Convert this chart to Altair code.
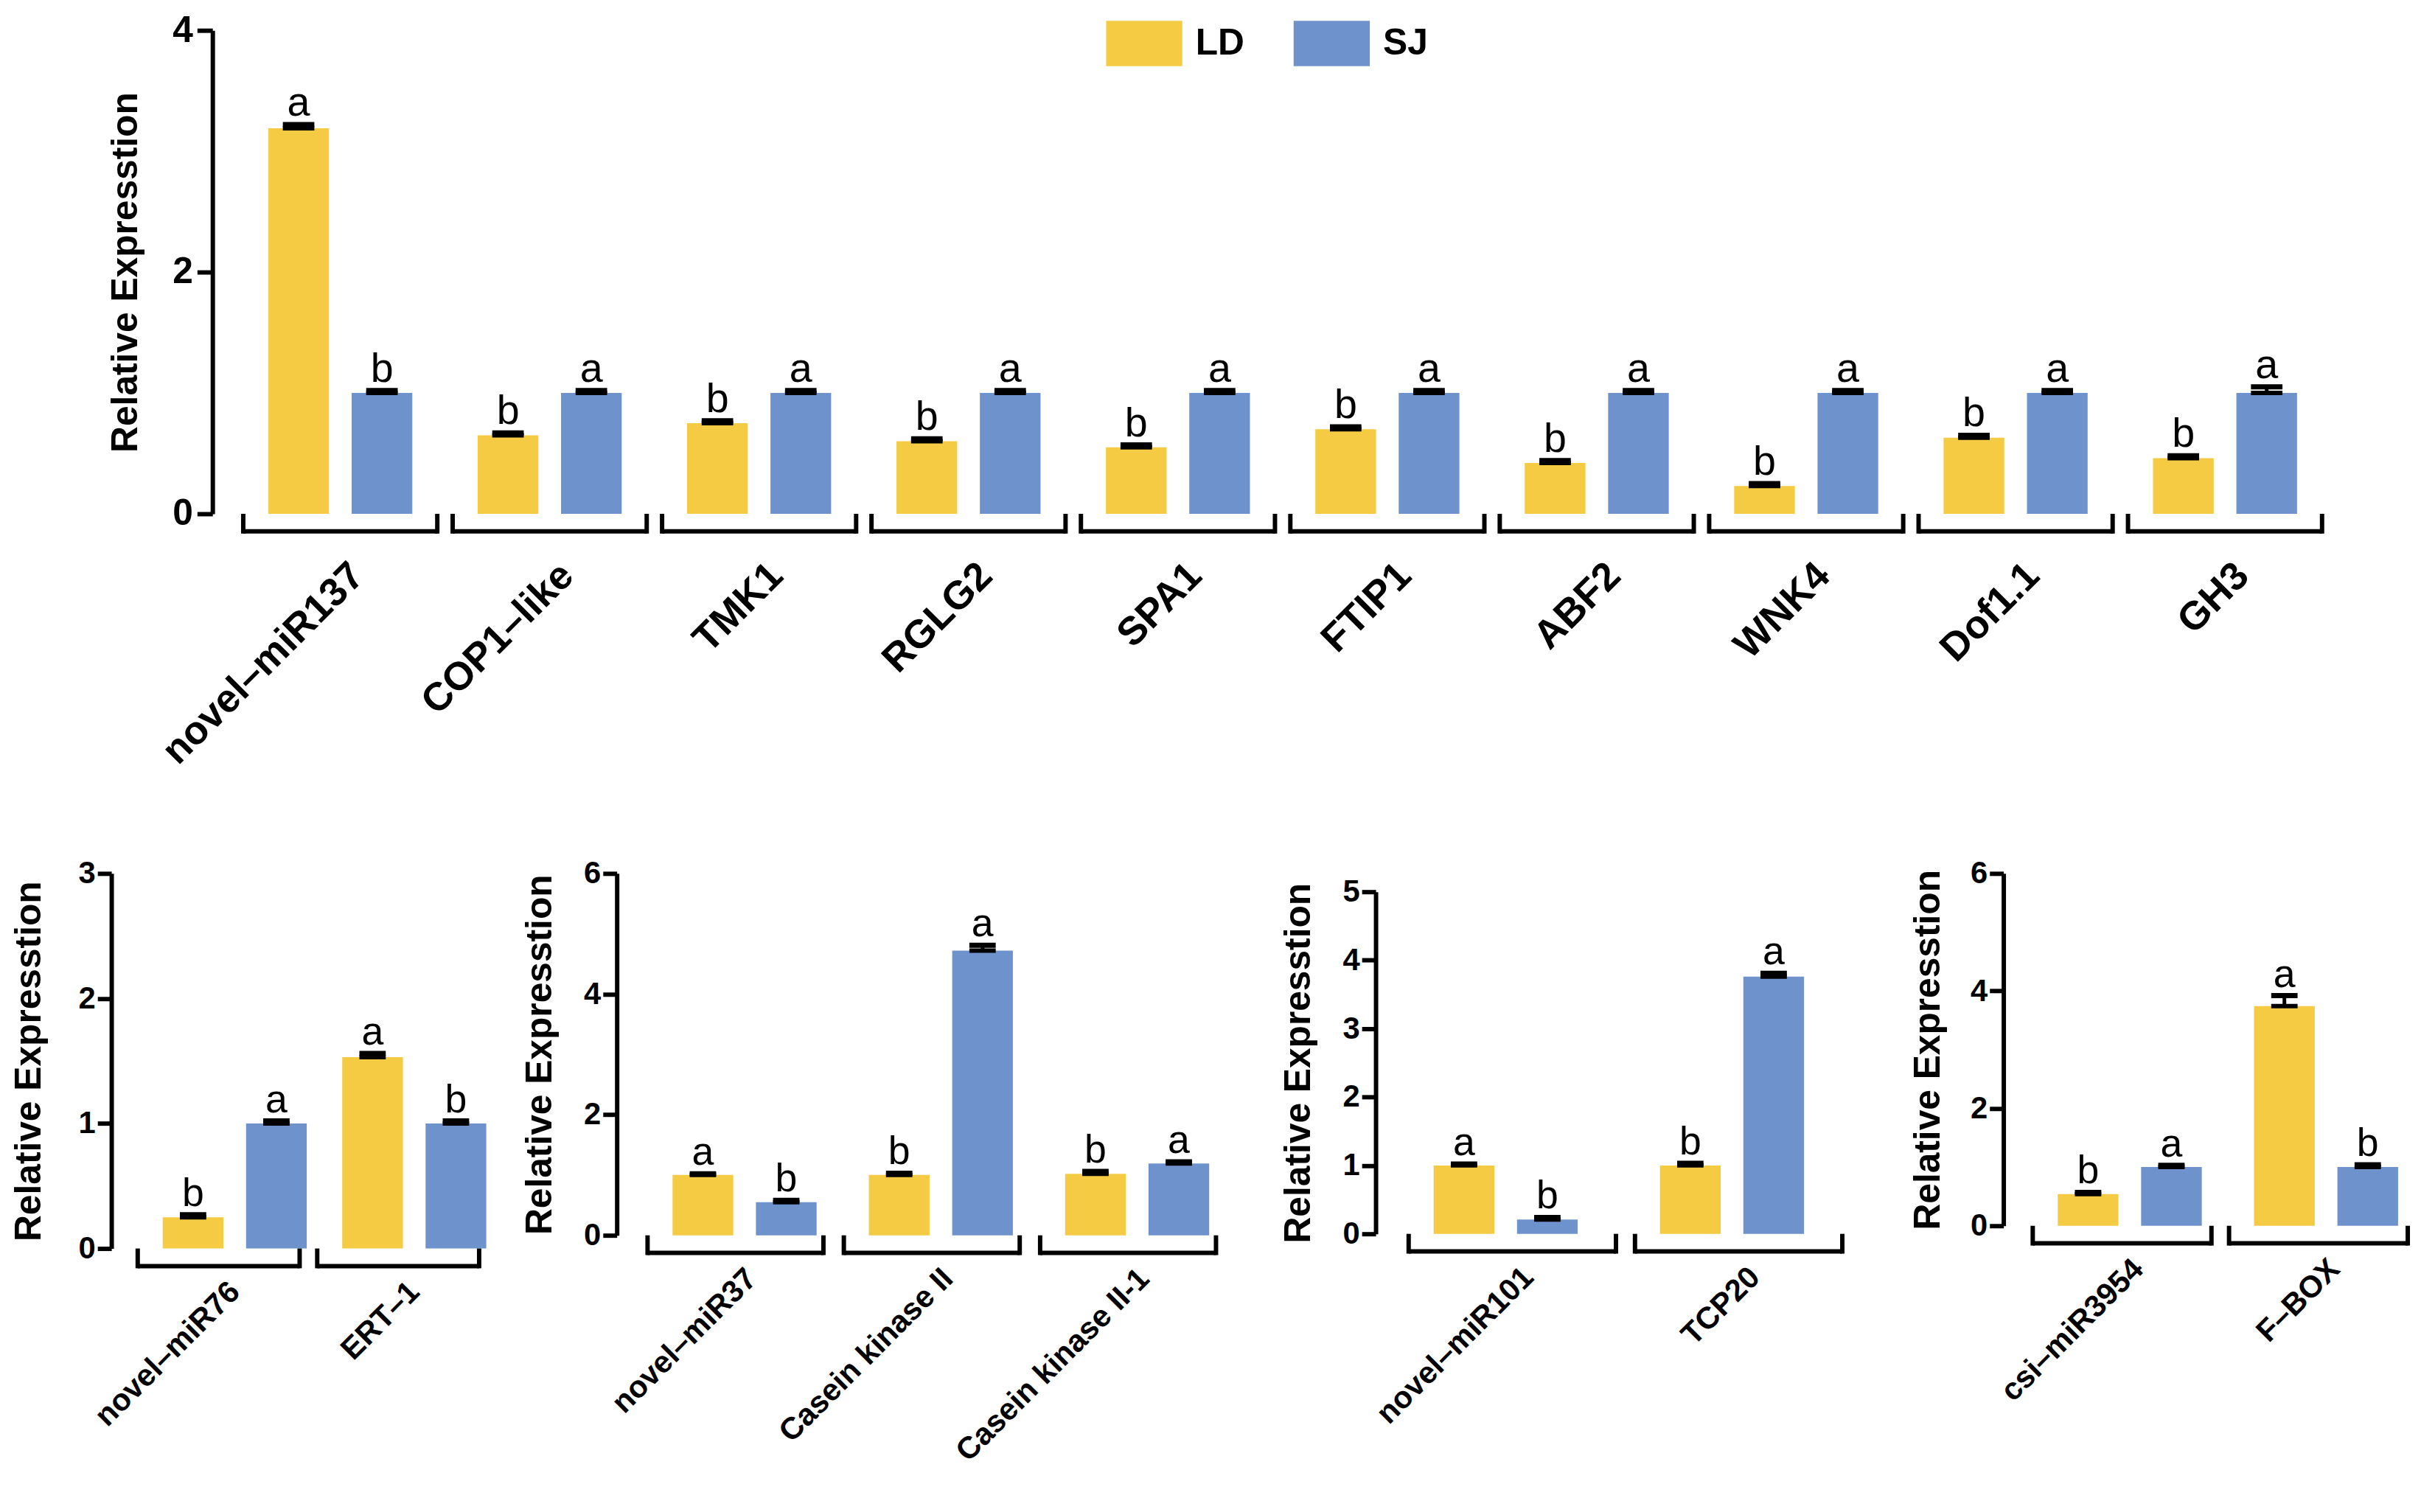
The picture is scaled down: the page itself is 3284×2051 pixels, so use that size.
import altair as alt
import pandas as pd

FONT = "Liberation Sans"
LD_COLOR = "#F4CB42"
SJ_COLOR = "#6E93CC"
GROUPS = ["LD", "SJ"]
Y_TITLE = "Relative Expresstion"

# ---------------- data ----------------
top_genes = ["novel–miR137", "COP1–like", "TMK1", "RGLG2", "SPA1",
             "FTIP1", "ABF2", "WNK4", "Dof1.1", "GH3"]
top_ld = [3.19, 0.65, 0.75, 0.60, 0.55, 0.70, 0.42, 0.23, 0.63, 0.46]
top_sj = [1.00, 1.00, 1.00, 1.00, 1.00, 1.00, 1.00, 1.00, 1.00, 1.00]
top_ld_err = [0.03, 0.02, 0.02, 0.02, 0.02, 0.02, 0.02, 0.02, 0.02, 0.02]
top_sj_err = [0.02, 0.02, 0.02, 0.02, 0.02, 0.02, 0.02, 0.02, 0.02, 0.05]
top_ld_sig = ["a", "b", "b", "b", "b", "b", "b", "b", "b", "b"]
top_sj_sig = ["b", "a", "a", "a", "a", "a", "a", "a", "a", "a"]

p1_genes = ["novel–miR76", "ERT–1"]
p1_ld = [0.25, 1.53]
p1_sj = [1.00, 1.00]
p1_ld_err = [0.02, 0.03]
p1_sj_err = [0.02, 0.02]
p1_ld_sig = ["b", "a"]
p1_sj_sig = ["a", "b"]

p2_genes = ["novel–miR37", "Casein kinase II", "Casein kinase II-1"]
p2_ld = [1.00, 1.00, 1.02]
p2_sj = [0.55, 4.72, 1.19]
p2_ld_err = [0.02, 0.03, 0.04]
p2_sj_err = [0.03, 0.09, 0.03]
p2_ld_sig = ["a", "b", "b"]
p2_sj_sig = ["b", "a", "a"]

p3_genes = ["novel–miR101", "TCP20"]
p3_ld = [1.00, 1.00]
p3_sj = [0.21, 3.76]
p3_ld_err = [0.02, 0.03]
p3_sj_err = [0.03, 0.05]
p3_ld_sig = ["a", "b"]
p3_sj_sig = ["b", "a"]

p4_genes = ["csi–miR3954", "F–BOX"]
p4_ld = [0.54, 3.74]
p4_sj = [1.00, 1.00]
p4_ld_err = [0.03, 0.18]
p4_sj_err = [0.03, 0.04]
p4_ld_sig = ["b", "a"]
p4_sj_sig = ["a", "b"]


def long_df(genes, ld, sj, ld_err, sj_err, ld_sig, sj_sig):
    rows = []
    for i, g in enumerate(genes):
        rows.append(dict(gene=g, group="LD", value=ld[i], err=ld_err[i], sig=ld_sig[i]))
        rows.append(dict(gene=g, group="SJ", value=sj[i], err=sj_err[i], sig=sj_sig[i]))
    df = pd.DataFrame(rows)
    df["top"] = df["value"] + df["err"]
    return df


def panel(genes, ld, sj, ld_err, sj_err, ld_sig, sj_sig, *, ymax, yticks,
          width, height, pi, po, align, ipi, ipo, capw, xfs, xoff, xpad,
          yfs, ytick, ylpad, tfs, tx, sfs, legend=None):
    df = long_df(genes, ld, sj, ld_err, sj_err, ld_sig, sj_sig)
    gdf = pd.DataFrame({"gene": genes})

    xscale = alt.Scale(domain=genes, paddingInner=pi, paddingOuter=po, align=align)
    oscale = alt.Scale(domain=GROUPS, paddingInner=ipi, paddingOuter=ipo)
    yscale = alt.Scale(domain=[0, ymax], nice=False, zero=True)

    xaxis = alt.Axis(title=None, domain=False, ticks=False, tickSize=0,
                     labelAngle=-45, labelAlign="right", labelBaseline="middle",
                     labelFont=FONT, labelFontSize=xfs, labelFontWeight="bold",
                     labelColor="black", labelOffset=xoff, labelPadding=xpad,
                     labelLimit=0)
    yaxis = alt.Axis(title=Y_TITLE, values=yticks, grid=False,
                     domainColor="black", domainWidth=6, tickColor="black",
                     tickWidth=6, tickSize=ytick, labelPadding=ylpad,
                     labelFont=FONT, labelFontSize=yfs, labelFontWeight="bold",
                     labelColor="black", titleFont=FONT, titleFontSize=tfs,
                     titleFontWeight="bold", titleColor="black",
                     titleX=tx, titleBaseline="middle", format="d")

    X = alt.X("gene:N", scale=xscale, axis=xaxis)
    XO = alt.XOffset("group:N", scale=oscale)
    base = alt.Chart(df)

    bars = base.mark_bar().encode(
        x=X, xOffset=XO,
        y=alt.Y("value:Q", scale=yscale, axis=yaxis),
        color=alt.Color("group:N",
                        scale=alt.Scale(domain=GROUPS, range=[LD_COLOR, SJ_COLOR]),
                        legend=legend),
    )
    err = base.mark_rule(color="black", strokeWidth=5).encode(
        x=X, xOffset=XO,
        y=alt.Y("value:Q", scale=yscale, axis=yaxis), y2="top:Q")
    cap_top = base.mark_tick(color="black", thickness=7, size=capw,
                             orient="horizontal", opacity=1).encode(
        x=X, xOffset=XO, y=alt.Y("top:Q", scale=yscale, axis=yaxis))
    cap_low = base.mark_tick(color="black", thickness=6, size=capw,
                             orient="horizontal", opacity=1).encode(
        x=X, xOffset=XO, y=alt.Y("value:Q", scale=yscale, axis=yaxis))
    sig = base.mark_text(font=FONT, fontSize=sfs, baseline="alphabetic",
                         dy=-12, color="black").encode(
        x=X, xOffset=XO, y=alt.Y("top:Q", scale=yscale, axis=yaxis),
        text="sig:N")

    gb = alt.Chart(gdf)
    br_h = gb.mark_rect(color="black").encode(
        x=X, y=alt.value(height + 21), y2=alt.value(height + 27))
    br_l = gb.mark_rule(color="black", strokeWidth=6).encode(
        x=alt.X("gene:N", scale=xscale, axis=xaxis, bandPosition=0),
        y=alt.value(height), y2=alt.value(height + 27))
    br_r = gb.mark_rule(color="black", strokeWidth=6).encode(
        x=alt.X("gene:N", scale=xscale, axis=xaxis, bandPosition=1),
        y=alt.value(height), y2=alt.value(height + 27))

    return alt.layer(bars, err, cap_low, cap_top, sig, br_h, br_l, br_r).properties(
        width=width, height=height)


legend = alt.Legend(orient="none", legendX=1241, legendY=-13,
                    direction="horizontal", title=None,
                    symbolType="M-1.677,-1H1.677V1H-1.677Z", symbolSize=3844,
                    symbolStrokeWidth=0, symbolOpacity=1,
                    labelFont=FONT, labelFontSize=50, labelFontWeight="bold",
                    labelColor="black", labelOffset=39, columnPadding=67,
                    padding=0)

top = panel(top_genes, top_ld, top_sj, top_ld_err, top_sj_err, top_ld_sig, top_sj_sig,
            ymax=4, yticks=[0, 2, 4], width=2922, height=660,
            pi=0.0734, po=0.147, align=0.5, ipi=0.272, ipo=0.30, capw=43,
            xfs=54, xoff=24, xpad=76, yfs=50, ytick=21, ylpad=6, tfs=50, tx=-118,
            sfs=56, legend=legend)

common = dict(capw=36, xfs=42, xoff=22, xpad=52, yfs=42, ytick=19, ylpad=3,
              tfs=50, sfs=54)
p1 = panel(p1_genes, p1_ld, p1_sj, p1_ld_err, p1_sj_err, p1_ld_sig, p1_sj_sig,
           ymax=3, yticks=[0, 1, 2, 3], width=546, height=512,
           pi=0.098, po=0.163, align=0.45, ipi=0.24, ipo=0.225, tx=-112, **common)
p2 = panel(p2_genes, p2_ld, p2_sj, p2_ld_err, p2_sj_err, p2_ld_sig, p2_sj_sig,
           ymax=6, yticks=[0, 2, 4, 6], width=892, height=494,
           pi=0.104, po=0.2164, align=0.362, ipi=0.235, ipo=0.294, tx=-105, **common)
p3 = panel(p3_genes, p3_ld, p3_sj, p3_ld_err, p3_sj_err, p3_ld_sig, p3_sj_sig,
           ymax=5, yticks=[0, 1, 2, 3, 4, 5], width=715, height=467,
           pi=0.084, po=0.199, align=0.366, ipi=0.238, ipo=0.279, tx=-105, **common)
p4 = panel(p4_genes, p4_ld, p4_sj, p4_ld_err, p4_sj_err, p4_ld_sig, p4_sj_sig,
           ymax=6, yticks=[0, 2, 4, 6], width=562, height=481,
           pi=0.0896, po=0.0933, align=0.8, ipi=0.243, ipo=0.262, tx=-103, **common)


def spacer():
    return alt.Chart(pd.DataFrame({"s": [0]})).mark_point(opacity=0).encode(
        x=alt.value(0), y=alt.value(0)).properties(width=1, height=1)


top_row = alt.hconcat(spacer(), top, spacing=-8).resolve_scale(color="independent")
p3_col = alt.vconcat(spacer(), p3, spacing=1).resolve_scale(color="independent")
bottom_row = alt.hconcat(p1, p2, p3_col, p4, spacing=13).resolve_scale(color="independent")

chart = alt.vconcat(top_row, bottom_row, spacing=118).resolve_scale(
    color="independent"
).properties(
    padding={"left": 6, "top": 2, "right": 0, "bottom": 0},
    background="white",
).configure(font=FONT).configure_view(stroke=None)

chart.save("out.html", embed_options={"renderer": "svg", "actions": False})
